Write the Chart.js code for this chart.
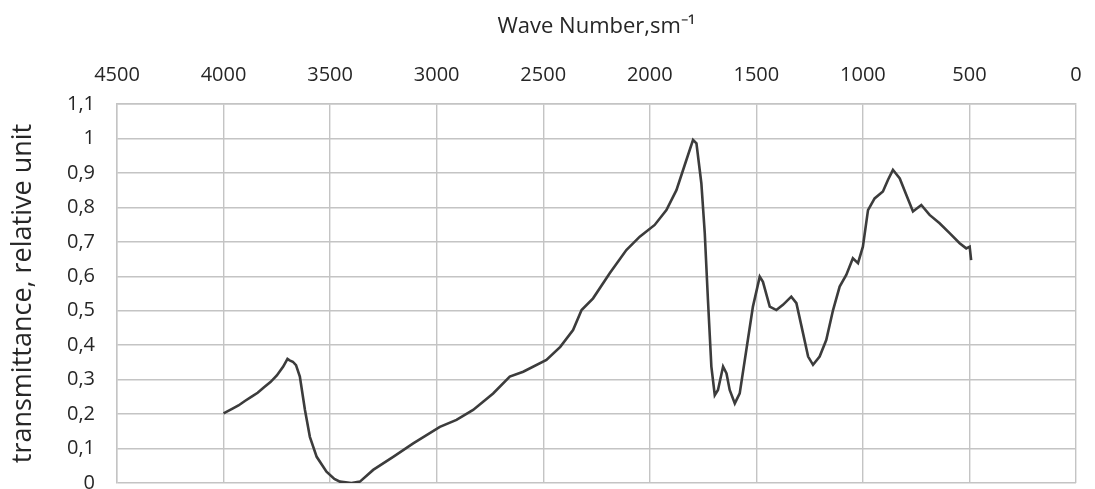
<!DOCTYPE html>
<html>
<head>
<meta charset="utf-8">
<script src="https://cdn.jsdelivr.net/npm/chart.js@4"></script>
<style>
  html, body { margin: 0; padding: 0; background: #fff; }
  #wrap { width: 1095px; height: 489px; position: relative; }
</style>
</head>
<body>
<div id="wrap"><canvas id="spectrum"></canvas></div>
<script>
// IR spectrum: wave number (sm-1) vs transmittance
const waveNumbers = [
  4000, 3960, 3930, 3900, 3870, 3840, 3810, 3780, 3750, 3720, 3700, 3690, 3675, 3660,
  3642, 3618, 3595, 3563, 3517, 3480, 3454, 3400, 3360, 3298, 3204, 3110, 2985, 2907,
  2829, 2735, 2657, 2594, 2485, 2420, 2360, 2320, 2266, 2188, 2110, 2047, 1977, 1922,
  1875, 1836, 1797, 1781, 1758, 1742, 1727, 1711, 1695, 1680, 1656, 1640, 1625, 1601,
  1578, 1547, 1516, 1484, 1469, 1437, 1406, 1375, 1336, 1312, 1281, 1257, 1234, 1203,
  1172, 1140, 1109, 1078, 1047, 1023, 1000, 976, 945, 906, 882, 859, 827, 796,
  765, 726, 687, 640, 593, 546, 515, 499, 492
];
const transmittance = [
  0.202, 0.215, 0.225, 0.238, 0.25, 0.262, 0.278, 0.293, 0.312, 0.338, 0.36, 0.356, 0.352, 0.342,
  0.309, 0.212, 0.134, 0.076, 0.033, 0.012, 0.004, 0.0, 0.004, 0.038, 0.076, 0.115, 0.163, 0.183,
  0.212, 0.26, 0.309, 0.323, 0.357, 0.395, 0.444, 0.502, 0.536, 0.609, 0.676, 0.715, 0.749, 0.792,
  0.85, 0.923, 0.996, 0.986, 0.87, 0.725, 0.531, 0.338, 0.255, 0.27, 0.338, 0.318, 0.27, 0.231,
  0.26, 0.386, 0.512, 0.599, 0.584, 0.512, 0.502, 0.517, 0.541, 0.522, 0.435, 0.367, 0.343, 0.367,
  0.415, 0.502, 0.57, 0.604, 0.652, 0.638, 0.686, 0.792, 0.826, 0.846, 0.88, 0.909, 0.884, 0.836,
  0.788, 0.807, 0.778, 0.754, 0.725, 0.696, 0.681, 0.686, 0.647
];

const xTitle = "Wave Number,sm\u207B\u00B9";
const yTitle = "transmittance, relative unit";

const points = waveNumbers.map((w, i) => ({ x: w, y: transmittance[i] }));

const gridColor = "#c4c4c4";
const textColor = "#262626";
const fontFamily = "'Open Sans', sans-serif";

const ctx = document.getElementById("spectrum").getContext("2d");

const myChart = new Chart(ctx, {
  type: "line",
  data: {
    datasets: [{
      data: points,
      borderColor: "#3c3c3c",
      borderWidth: 2.6,
      pointRadius: 0,
      tension: 0,
      fill: false
    }]
  },
  options: {
    responsive: true,
    maintainAspectRatio: false,
    animation: false,
    layout: { padding: { left: 0, right: 19, top: 0, bottom: 6 } },
    plugins: {
      legend: { display: false },
      tooltip: { enabled: false }
    },
    scales: {
      x: {
        type: "linear",
        position: "top",
        reverse: true,
        min: 0,
        max: 4500,
        afterFit: (scale) => { scale.height = 104; },
        ticks: {
          stepSize: 500,
          padding: 0,
          color: textColor,
          font: { family: fontFamily, size: 20 },
          maxRotation: 0,
          callback: (v) => String(v)
        },
        // tick marks are only used as an invisible gap between labels and plot
        grid: { color: gridColor, lineWidth: 1.4, drawTicks: true, tickLength: 17, tickColor: "rgba(0,0,0,0)" },
        border: { display: true, color: gridColor, width: 1.4 },
        title: {
          display: true,
          text: xTitle,
          color: textColor,
          font: { family: fontFamily, size: 22 },
          padding: { top: 14, bottom: 0 }
        }
      },
      y: {
        min: 0,
        max: 1.1,
        afterFit: (scale) => { scale.width = 117; },
        ticks: {
          stepSize: 0.1,
          padding: 0,
          color: textColor,
          font: { family: fontFamily, size: 20, lineHeight: 0.5 },
          callback: (v) => {
            let s = (Math.round(v * 10) / 10).toString();
            return s.replace(".", ",");
          }
        },
        grid: { color: gridColor, lineWidth: 1.4, drawTicks: true, tickLength: 22, tickColor: "rgba(0,0,0,0)" },
        border: { display: true, color: gridColor, width: 1.4 },
        title: {
          display: true,
          text: yTitle,
          color: textColor,
          font: { family: fontFamily, size: 27 },
          padding: { top: 7, bottom: 0 }
        }
      }
    }
  }
});
</script>
</body>
</html>
